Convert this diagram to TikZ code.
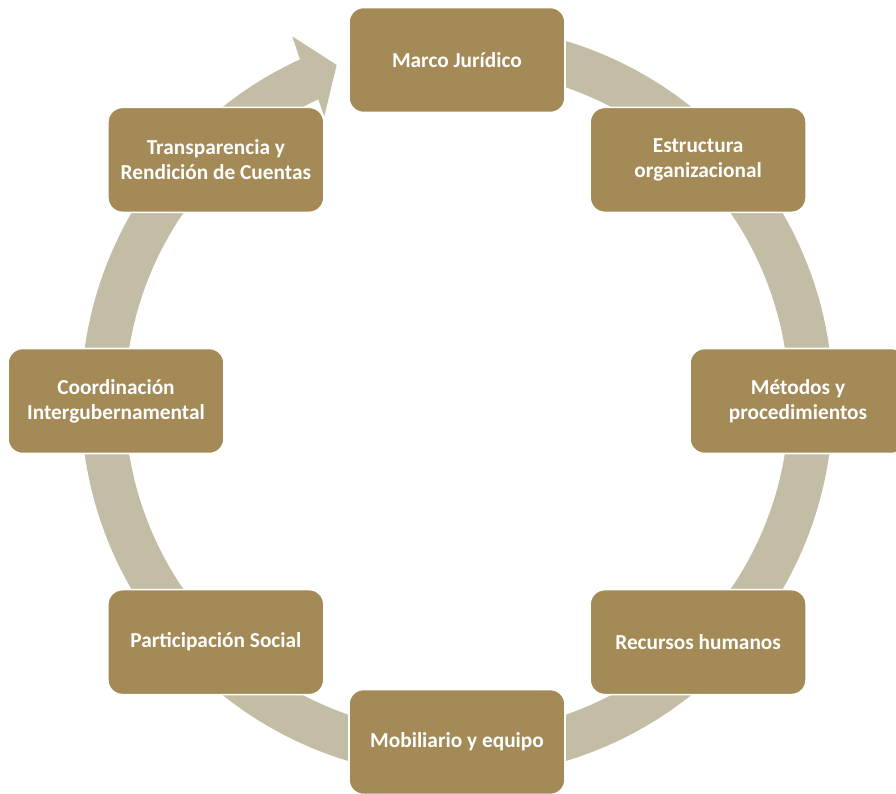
\documentclass[tikz,border=0pt]{standalone}
\usepackage{fontspec}
\setmainfont{Carlito}
\definecolor{boxgold}{HTML}{A38A56}
\definecolor{ringtan}{HTML}{C4BDA5}
\begin{document}
\begin{tikzpicture}[x=0.75pt,y=0.75pt,main node/.style={rectangle,rounded corners=11pt,draw=white,line width=1.2pt,fill=boxgold,text=white,font=\bfseries\fontsize{16}{19}\selectfont,align=center,minimum width=162pt,minimum height=78.75pt,inner sep=2pt},ring/.style={fill=ringtan}]
                \clip (-457,-392) rectangle (439,401);

                \fill[ring] (85:376) arc[start angle=85, end angle=-245.3, radius=376]
                    -- (-245.7:400) -- (-250.3:357) -- (-245:314)
                    -- (-245.3:332) arc[start angle=-245.3, end angle=85, radius=332] -- cycle;

                \node[main node] at (90:341) (marco) {Marco Jurídico};
                \node[main node] at (45:341) (estructura) {Estructura\\organizacional};
                \node[main node] at (0:341) (metodos) {Métodos y\\procedimientos};
                \node[main node] at (-45:341) (recursos) {Recursos humanos};
                \node[main node] at (-90:341) (mobiliario) {Mobiliario y equipo};
                \node[main node] at (-135:341) (participacion) {Participación Social};
                \node[main node] at (180:341) (coordinacion) {Coordinación\\Intergubernamental};
                \node[main node] at (135:341) (transparencia) {Transparencia y\\Rendición de Cuentas};
            \end{tikzpicture}
\end{document}
